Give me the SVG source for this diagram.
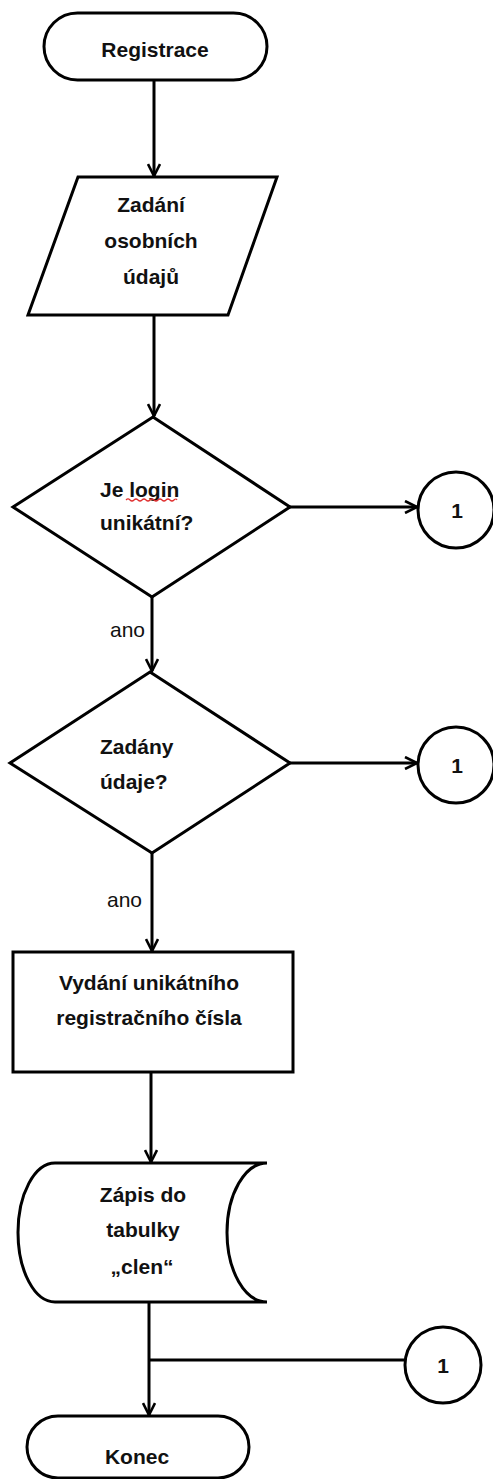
<svg xmlns="http://www.w3.org/2000/svg" width="493" height="1479" viewBox="0 0 493 1479">
  <defs>
    <marker id="arrow" viewBox="0 0 14 14" refX="13" refY="7" markerWidth="14" markerHeight="14" markerUnits="userSpaceOnUse" orient="auto">
      <path d="M1 1 L13 7 L1 13" fill="none" stroke="#000" stroke-width="2.6" stroke-linejoin="miter"/>
    </marker>
  </defs>
  <style>
    .shape { fill: #fff; stroke: #000; stroke-width: 3; }
    .line { fill: none; stroke: #000; stroke-width: 3; }
    .t { font-family: "Liberation Sans", Arial, sans-serif; font-weight: bold; font-size: 21px; fill: #111; }
    .c { text-anchor: middle; }
    .lbl { font-family: "Liberation Sans", Arial, sans-serif; font-size: 21px; fill: #111; }
  </style>
  <rect width="493" height="1479" fill="#fff"/>

  <!-- connectors -->
  <g id="connectors">
    <line class="line" x1="154" y1="80" x2="154" y2="176" marker-end="url(#arrow)"/>
    <line class="line" x1="154" y1="315" x2="154" y2="416" marker-end="url(#arrow)"/>
    <line class="line" x1="290" y1="507" x2="417" y2="507" marker-end="url(#arrow)"/>
    <line class="line" x1="152" y1="597" x2="152" y2="671" marker-end="url(#arrow)"/>
    <line class="line" x1="290" y1="763" x2="417" y2="763" marker-end="url(#arrow)"/>
    <line class="line" x1="152" y1="853" x2="152" y2="951" marker-end="url(#arrow)"/>
    <line class="line" x1="151" y1="1072" x2="151" y2="1162" marker-end="url(#arrow)"/>
    <line class="line" x1="149" y1="1302" x2="149" y2="1415" marker-end="url(#arrow)"/>
    <line class="line" x1="149" y1="1360" x2="405" y2="1360"/>
    <text class="lbl" x="110" y="637">ano</text>
    <text class="lbl" x="107" y="907">ano</text>
  </g>

  <!-- start terminator -->
  <g id="start">
    <rect class="shape" x="44" y="13" width="223" height="67" rx="33.5"/>
    <text class="t c" x="155" y="57">Registrace</text>
  </g>

  <!-- input of personal data -->
  <g id="input">
    <polygon class="shape" points="78,177 277,177 228,315 28,315"/>
    <text class="t c" x="151" y="212">Zadání</text>
    <text class="t c" x="151" y="248">osobních</text>
    <text class="t c" x="151" y="284">údajů</text>
  </g>

  <!-- decision: unique login -->
  <g id="decision-login">
    <polygon class="shape" points="153,417 290,507 152,597 13,507"/>
    <text class="t" x="100" y="497">Je login</text>
    <path d="M126 500 q2 -2 4 0 t4 0 t4 0 t4 0 t4 0 t4 0 t4 0 t4 0 t4 0 t4 0 t4 0 t4 0 t3 0" fill="none" stroke="#e03030" stroke-width="1.2"/>
    <text class="t" x="100" y="530">unikátní?</text>
  </g>

  <!-- off-page connector 1 (login) -->
  <g id="conn-1a">
    <circle class="shape" cx="456" cy="510" r="38"/>
    <text class="t c" x="457" y="518">1</text>
  </g>

  <!-- decision: data entered -->
  <g id="decision-data">
    <polygon class="shape" points="150,672 290,763 152,853 10,763"/>
    <text class="t" x="100" y="754">Zadány</text>
    <text class="t" x="100" y="789">údaje?</text>
  </g>

  <!-- off-page connector 1 (data) -->
  <g id="conn-1b">
    <circle class="shape" cx="456" cy="765" r="38"/>
    <text class="t c" x="457" y="773">1</text>
  </g>

  <!-- process: issue registration number -->
  <g id="process">
    <rect class="shape" x="13" y="952" width="280" height="120"/>
    <text class="t c" x="149" y="990">Vydání unikátního</text>
    <text class="t c" x="149" y="1025">registračního čísla</text>
  </g>

  <!-- stored data: write to table -->
  <g id="store">
    <path class="shape" d="M55 1163 L267 1163 A40 69.5 0 0 0 267 1302 L55 1302 A37 69.5 0 0 1 55 1163 Z"/>
    <text class="t c" x="143" y="1202">Zápis do</text>
    <text class="t c" x="143" y="1237">tabulky</text>
    <text class="t c" x="142" y="1274">„clen“</text>
  </g>

  <!-- off-page connector 1 (return) -->
  <g id="conn-1c">
    <circle class="shape" cx="443" cy="1365" r="38"/>
    <text class="t c" x="443" y="1373">1</text>
  </g>

  <!-- end terminator -->
  <g id="end">
    <rect class="shape" x="27" y="1416" width="222" height="62" rx="31"/>
    <text class="t c" x="137" y="1464">Konec</text>
  </g>
</svg>
